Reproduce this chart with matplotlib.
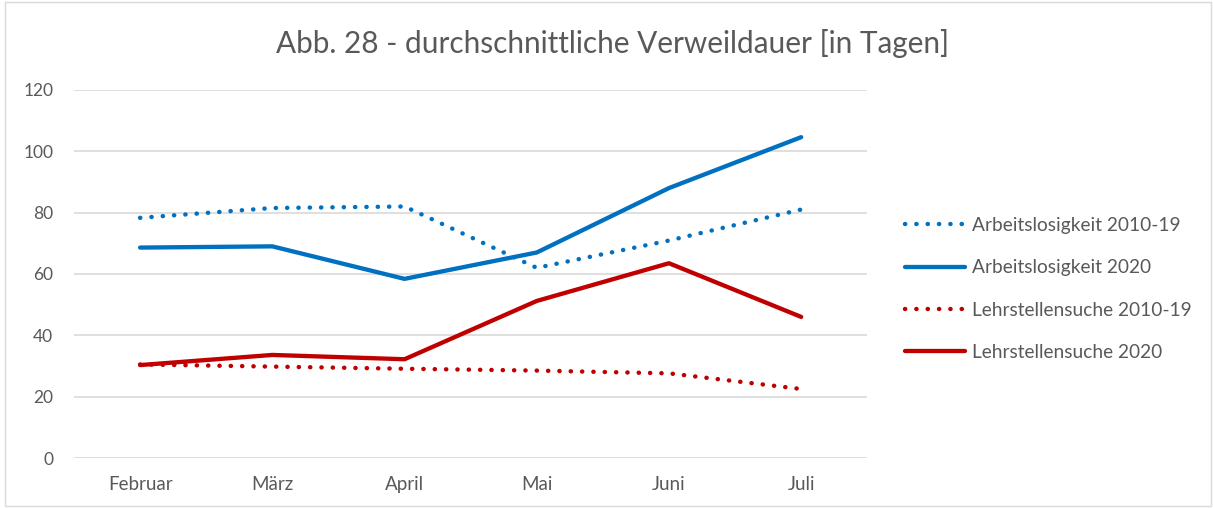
import matplotlib
matplotlib.use("Agg")
import matplotlib.pyplot as plt
from matplotlib.patches import Rectangle

plt.rcParams["font.family"] = ["Lato", "DejaVu Sans"]

# Daten
monate = ["Februar", "März", "April", "Mai", "Juni", "Juli"]
arbeitslos_2010_19 = [78.3, 81.5, 82.0, 62.0, 70.9, 81.0]
arbeitslos_2020 = [68.6, 69.0, 58.4, 67.0, 88.0, 104.6]
lehrstelle_2010_19 = [30.5, 29.8, 29.1, 28.5, 27.6, 22.5]
lehrstelle_2020 = [30.3, 33.6, 32.2, 51.2, 63.5, 46.0]
y_ticks = [0, 20, 40, 60, 80, 100, 120]

BLAU = "#0070C0"
ROT = "#C00000"
GRAU = "#595959"

fig = plt.figure(figsize=(12.13, 5.08), dpi=100)
ax = fig.add_axes([0.061, 0.0984, 0.654, 0.7246])

x = list(range(len(monate)))
dot = (0, (0.05, 2.5))
ax.plot(x, arbeitslos_2010_19, color=BLAU, lw=3.2, linestyle=dot,
        dash_capstyle="round", label="Arbeitslosigkeit 2010-19")
ax.plot(x, arbeitslos_2020, color=BLAU, lw=3.1, solid_capstyle="round",
        solid_joinstyle="round", label="Arbeitslosigkeit 2020")
ax.plot(x, lehrstelle_2010_19, color=ROT, lw=3.2, linestyle=dot,
        dash_capstyle="round", label="Lehrstellensuche 2010-19")
ax.plot(x, lehrstelle_2020, color=ROT, lw=3.1, solid_capstyle="round",
        solid_joinstyle="round", label="Lehrstellensuche 2020")

ax.set_xlim(-0.5, len(monate) - 0.5)
ax.set_ylim(0, 120)
ax.set_yticks(y_ticks)
ax.set_xticks(x)
ax.set_xticklabels(monate)
ax.tick_params(axis="both", length=0, colors=GRAU)
ax.tick_params(axis="y", pad=15, labelsize=12.5)
ax.tick_params(axis="x", pad=13, labelsize=13.5)
ax.grid(axis="y", color="#D9D9D9", linewidth=1.2)
ax.set_axisbelow(True)
for s in ax.spines.values():
    s.set_visible(False)

fig.text(0.505, 0.914, "Abb. 28 - durchschnittliche Verweildauer [in Tagen]",
         ha="center", va="center", fontsize=21.4, color=GRAU)

leg = fig.legend(loc="center left", bbox_to_anchor=(0.732, 0.431),
                 frameon=False, fontsize=13.8, handlelength=3.1,
                 handletextpad=0.4, labelspacing=1.32, labelcolor=GRAU)

fig.patches.append(Rectangle((0.004, 0.004), 0.994, 0.992,
                             transform=fig.transFigure, fill=False,
                             edgecolor="#D9D9D9", linewidth=1))

plt.savefig("out.png", dpi=100)
